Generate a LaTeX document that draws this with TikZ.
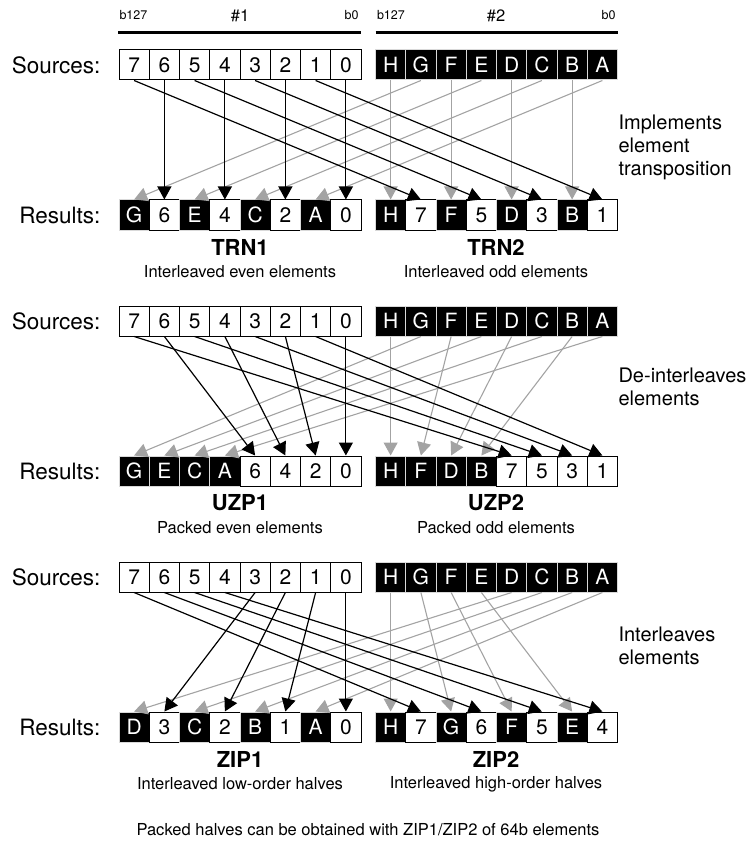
\documentclass[tikz,border=0pt]{standalone}
\usepackage{fontspec}
\setmainfont{TeX Gyre Heros}
\usetikzlibrary{arrows.meta}

\newcommand\cellrow[4]{%
  \foreach \lab/\sty [count=\i from 0] in {#4}
    \node[style=\sty] (#1\i) at ({#2+(\i+0.5)*30.25}, #3) {\lab};}

\tikzset{
  lcell/.style={draw=black, fill=white, line width=1pt, minimum width=30.25pt,
    minimum height=30pt, inner sep=0pt, font=\fontsize{21}{21}\selectfont},
  dcell/.style={lcell, draw=gray!30, fill=black, text=white},
  blkarrow/.style={draw=black, line width=1.2pt, -{Triangle[length=13pt,width=14pt]}},
  gryarrow/.style={draw=gray!72, line width=1.1pt, -{Triangle[length=13pt,width=14pt]}},
  rowlabel/.style={anchor=east, font=\fontsize{22.5}{22.5}\selectfont},
  opname/.style={font=\bfseries\fontsize{22}{22}\selectfont},
  opnote/.style={font=\fontsize{16.5}{16.5}\selectfont},
  bitlabel/.style={font=\fontsize{12.5}{12.5}\selectfont},
  sidenote/.style={anchor=west, align=left, font=\fontsize{20}{23}\selectfont},
}

\begin{document}
\begin{tikzpicture}[x=1pt, y=-1pt]
\useasboundingbox (0,0) rectangle (747,842);

% register headers
\coordinate (h1w) at (118,33);
\coordinate (h1e) at (361,33);
\coordinate (h2w) at (375.5,33);
\coordinate (h2e) at (617.5,33);
\draw[line width=3pt] (h1w) -- (h1e);
\draw[line width=3pt] (h2w) -- (h2e);
\node[bitlabel, anchor=west] (b1hi) at (116,15) {b127};
\node[bitlabel, anchor=east] (b1lo) at (362,15) {b0};
\node[font=\fontsize{16.5}{16.5}\selectfont] (reg1) at (240,16) {\#1};
\node[bitlabel, anchor=west] (b2hi) at (373.5,15) {b127};
\node[bitlabel, anchor=east] (b2lo) at (619,15) {b0};
\node[font=\fontsize{16.5}{16.5}\selectfont] (reg2) at (496,16) {\#2};

% source and result rows
\foreach \p/\y in {t/65, u/321, z/577} {
  \node[rowlabel] (\p slab) at (104,\y) {Sources:};
  \cellrow{\p sL}{119}{\y}{7/lcell,6/lcell,5/lcell,4/lcell,3/lcell,2/lcell,1/lcell,0/lcell}
  \cellrow{\p sR}{375.5}{\y}{H/dcell,G/dcell,F/dcell,E/dcell,D/dcell,C/dcell,B/dcell,A/dcell}
  \node[rowlabel] (\p rlab) at (104,\y+150) {Results:};
}

\cellrow{trL}{119}{215}{G/dcell,6/lcell,E/dcell,4/lcell,C/dcell,2/lcell,A/dcell,0/lcell}
\cellrow{trR}{375.5}{215}{H/dcell,7/lcell,F/dcell,5/lcell,D/dcell,3/lcell,B/dcell,1/lcell}
\cellrow{urL}{119}{471}{G/dcell,E/dcell,C/dcell,A/dcell,6/lcell,4/lcell,2/lcell,0/lcell}
\cellrow{urR}{375.5}{471}{H/dcell,F/dcell,D/dcell,B/dcell,7/lcell,5/lcell,3/lcell,1/lcell}
\cellrow{zrL}{119}{727}{D/dcell,3/lcell,C/dcell,2/lcell,B/dcell,1/lcell,A/dcell,0/lcell}
\cellrow{zrR}{375.5}{727}{H/dcell,7/lcell,G/dcell,6/lcell,F/dcell,5/lcell,E/dcell,4/lcell}

% TRN
\foreach \a/\b in {R1/L0, R3/L2, R5/L4, R7/L6, R0/R0, R2/R2, R4/R4, R6/R6}
  \draw[gryarrow] (ts\a.south) -- (tr\b.north);
\foreach \a/\b in {L1/L1, L3/L3, L5/L5, L7/L7, L0/R1, L2/R3, L4/R5, L6/R7}
  \draw[blkarrow] (ts\a.south) -- (tr\b.north);
% UZP
\foreach \a/\b in {R1/L0, R3/L1, R5/L2, R7/L3, R0/R0, R2/R1, R4/R2, R6/R3}
  \draw[gryarrow] (us\a.south) -- (ur\b.north);
\foreach \a/\b in {L1/L4, L3/L5, L5/L6, L7/L7, L0/R4, L2/R5, L4/R6, L6/R7}
  \draw[blkarrow] (us\a.south) -- (ur\b.north);
% ZIP
\foreach \a/\b in {R4/L0, R5/L2, R6/L4, R7/L6, R0/R0, R1/R2, R2/R4, R3/R6}
  \draw[gryarrow] (zs\a.south) -- (zr\b.north);
\foreach \a/\b in {L4/L1, L5/L3, L6/L5, L7/L7, L0/R1, L1/R3, L2/R5, L3/R7}
  \draw[blkarrow] (zs\a.south) -- (zr\b.north);

% names and notes
\node[opname] (trn1) at (240,247) {TRN1};
\node[opname] (trn2) at (496,247) {TRN2};
\node[opnote] (trn1n) at (240,272) {Interleaved even elements};
\node[opnote] (trn2n) at (496,272) {Interleaved odd elements};
\node[opname] (uzp1) at (240,503) {UZP1};
\node[opname] (uzp2) at (496,503) {UZP2};
\node[opnote] (uzp1n) at (240,528) {Packed even elements};
\node[opnote] (uzp2n) at (496,528) {Packed odd elements};
\node[opname] (zip1) at (240,759) {ZIP1};
\node[opname] (zip2) at (496,759) {ZIP2};
\node[opnote] (zip1n) at (240,784) {Interleaved low-order halves};
\node[opnote] (zip2n) at (496,784) {Interleaved high-order halves};

\node[sidenote] (trnside) at (615,147) {Implements\\element\\transposition};
\node[sidenote] (uzpside) at (615,387) {De-interleaves\\elements};
\node[sidenote] (zipside) at (615,646) {Interleaves\\elements};

\node[opnote] (footer) at (368,830) {Packed halves can be obtained with ZIP1/ZIP2 of 64b elements};
\end{tikzpicture}
\end{document}
